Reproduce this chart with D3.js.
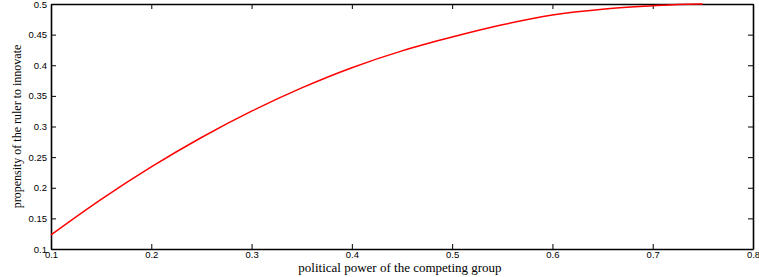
<!DOCTYPE html>
<html>
<head>
<meta charset="utf-8">
<script src="https://cdn.jsdelivr.net/npm/d3@7/dist/d3.min.js"></script>
<style>
  html, body { margin: 0; padding: 0; background: #fff; }
  svg { display: block; }
</style>
</head>
<body>
<svg id="chart" width="759" height="277"></svg>
<script>
const xTicks = [0.1, 0.2, 0.3, 0.4, 0.5, 0.6, 0.7, 0.8];
const yTicks = [0.1, 0.15, 0.2, 0.25, 0.3, 0.35, 0.4, 0.45, 0.5];
const powerValues = [0.1, 0.15, 0.2, 0.25, 0.3, 0.35, 0.4, 0.45, 0.5, 0.55, 0.6, 0.65, 0.7, 0.725, 0.75];
const propensityValues = [0.123, 0.181, 0.234, 0.282, 0.325, 0.363, 0.396, 0.4235, 0.446, 0.466, 0.482, 0.4915, 0.497, 0.4992, 0.5];
const xTitle = "political power of the competing group";
const yTitle = "propensity of the ruler to innovate";

const svg = d3.select("#chart");
const m = { left: 51, right: 6, top: 4, bottom: 28 };
const W = 759, H = 277;
const x = d3.scaleLinear().domain([0.1, 0.8]).range([m.left, W - m.right]);
const y = d3.scaleLinear().domain([0.1, 0.5]).range([H - m.bottom, m.top]);

const fmt = d => String(+d.toFixed(2));
const tickFont = "Liberation Sans, Arial, sans-serif";

function styleAxis(g) {
  g.selectAll("path.domain").attr("stroke", "#000").attr("stroke-width", 1.6);
  g.selectAll(".tick line").attr("stroke", "#000").attr("stroke-width", 1);
  g.selectAll(".tick text").attr("font-family", tickFont).attr("font-size", 9.5).attr("fill", "#000");
}

// bottom
svg.append("g").attr("transform", `translate(0,${y(0.1)})`)
  .call(d3.axisBottom(x).tickValues(xTicks).tickSize(-5).tickSizeOuter(0).tickPadding(2).tickFormat(fmt))
  .call(styleAxis);
// top
svg.append("g").attr("transform", `translate(0,${y(0.5)})`)
  .call(d3.axisTop(x).tickValues(xTicks).tickSize(-5).tickSizeOuter(0).tickFormat(""))
  .call(styleAxis);
// left
svg.append("g").attr("transform", `translate(${x(0.1)},0)`)
  .call(d3.axisLeft(y).tickValues(yTicks).tickSize(-5).tickSizeOuter(0).tickPadding(4).tickFormat(fmt))
  .call(styleAxis);
// right
svg.append("g").attr("transform", `translate(${x(0.8)},0)`)
  .call(d3.axisRight(y).tickValues(yTicks).tickSize(-5).tickSizeOuter(0).tickFormat(""))
  .call(styleAxis);

// curve
const data = powerValues.map((v, i) => ({ x: v, y: propensityValues[i] }));
svg.append("path")
  .datum(data)
  .attr("fill", "none")
  .attr("stroke", "#ff0000")
  .attr("stroke-width", 1.5)
  .attr("d", d3.line().x(d => x(d.x)).y(d => y(d.y)).curve(d3.curveCatmullRom.alpha(0.5)));

// titles
svg.append("text")
  .attr("x", (x(0.1) + x(0.8)) / 2 - 2).attr("y", 272)
  .attr("text-anchor", "middle")
  .attr("font-family", "Liberation Serif, Times New Roman, serif")
  .attr("font-size", 13)
  .text(xTitle);

svg.append("text")
  .attr("transform", `translate(21,${(y(0.1) + y(0.5)) / 2}) rotate(-90)`)
  .attr("text-anchor", "middle")
  .attr("font-family", "Liberation Serif, Times New Roman, serif")
  .attr("font-size", 12)
  .text(yTitle);
</script>
</body>
</html>
